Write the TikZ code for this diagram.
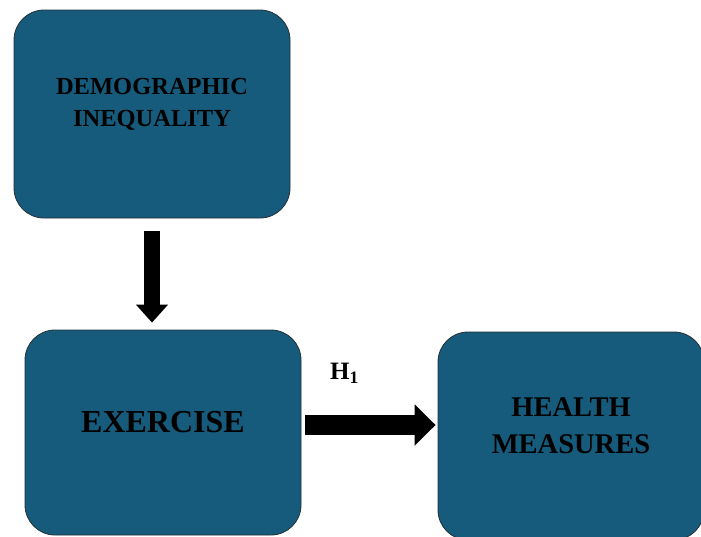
\documentclass[tikz,border=0pt]{standalone}
\usepackage{fontspec}
\setmainfont{Liberation Serif}
\usetikzlibrary{arrows.meta, positioning}
\definecolor{boxblue}{RGB}{22, 91, 123}
\definecolor{boxedge}{RGB}{38, 48, 54}

\tikzset{
  varbox/.style={draw=boxedge, line width=0.8pt, fill=boxblue, rounded corners=30pt, inner sep=0pt},
  vartext/.style={align=center, text=black, inner sep=0pt},
  downarrow/.style={line width=16pt, -{Triangle[width=31pt, length=18pt]}},
  rightarrow/.style={line width=20pt, -{Triangle[width=40pt, length=21pt]}}
}

\begin{document}
\begin{tikzpicture}[x=1pt, y=-1pt]
  \useasboundingbox (0,0) rectangle (701,536);
  \clip (0,0) rectangle (701,536);

  % Boxes
  \node[varbox, minimum width=276pt, minimum height=208pt] (dem) at (152,114) {};
  \node[varbox, minimum width=276pt, minimum height=205pt] (ex) at (163,432.5) {};
  \node[varbox, minimum width=266pt, minimum height=208pt] (hm) at (571,436) {};

  % Box texts
  \node[vartext, font=\fontsize{24.5}{32}\selectfont\bfseries] at ([yshift=10pt]dem.center) {DEMOGRAPHIC\\INEQUALITY};
  \node[vartext, font=\fontsize{32}{38}\selectfont\bfseries] at ([yshift=10pt]ex.center) {EXERCISE};
  \node[vartext, font=\fontsize{28.5}{37}\selectfont\bfseries] at ([yshift=10pt]hm.center) {HEALTH\\MEASURES};

  % Demographic inequality -> exercise
  \draw[downarrow] ([yshift=-13pt]dem.south) -- ([yshift=7pt]dem.south |- ex.north);

  % Exercise -> health measures
  \coordinate (hstart) at ([shift={(4pt,7.5pt)}]ex.east);
  \coordinate (hend) at (hstart -| hm.west);
  \draw[rightarrow] (hstart) -- ([xshift=-2pt]hend)
    node[pos=0.3, above=32pt, inner sep=0pt, font=\fontsize{25}{30}\selectfont\bfseries] {H\textsubscript{1}};
\end{tikzpicture}
\end{document}
